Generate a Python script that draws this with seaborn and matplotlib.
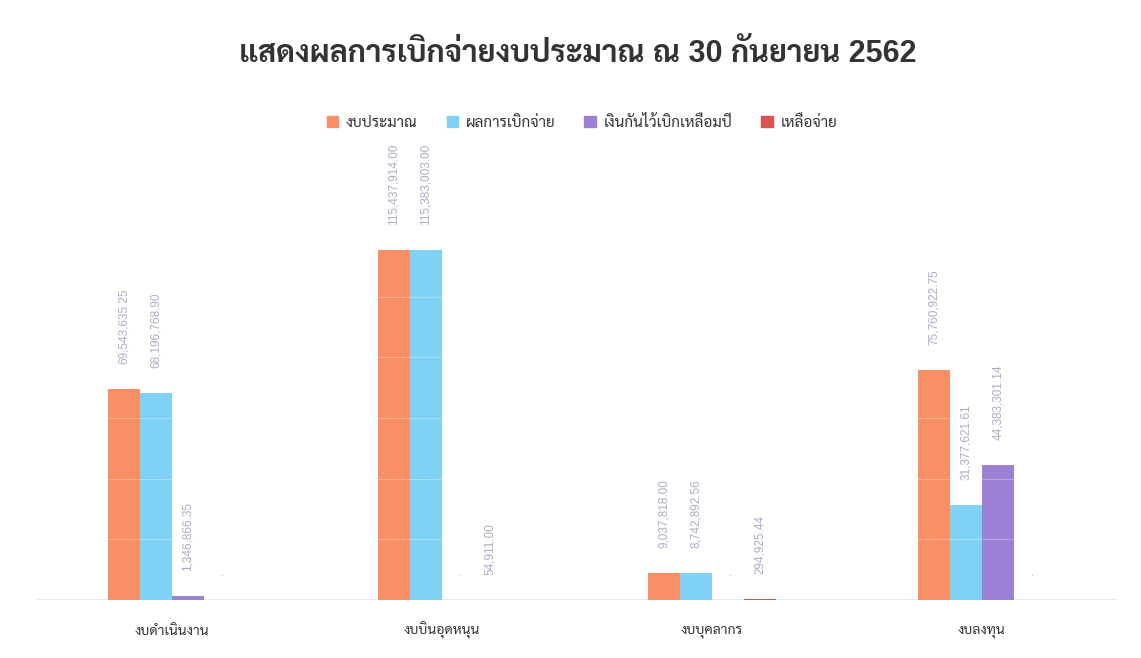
import matplotlib
matplotlib.use("Agg")
import matplotlib.pyplot as plt
import seaborn as sns
import pandas as pd

categories = ["งบดำเนินงาน", "งบบินอุดหนุน", "งบบุคลากร", "งบลงทุน"]
series_names = ["งบประมาณ", "ผลการเบิกจ่าย", "เงินกันไว้เบิกเหลื่อมปี", "เหลือจ่าย"]
budget = [69543635.25, 115437914.00, 9037818.00, 75760922.75]
disbursed = [68196768.90, 115383003.00, 8742892.56, 31377621.61]
carried = [1346866.35, 0.0, 0.0, 44383301.14]
remaining = [0.0, 54911.00, 294925.44, 0.0]
title = "แสดงผลการเบิกจ่ายงบประมาณ ณ 30 กันยายน 2562"
colors = ["#F98F64", "#7FD2F5", "#9B80D3", "#D9534F"]

rows = []
for name, vals in zip(series_names, [budget, disbursed, carried, remaining]):
    for c, v in zip(categories, vals):
        rows.append({"cat": c, "series": name, "value": v})
df = pd.DataFrame(rows)

sns.set_theme(style="white")
plt.rcParams["font.family"] = ["Liberation Sans", "Sarabun", "DejaVu Sans"]

fig = plt.figure(figsize=(11.41, 6.58), dpi=100)
ax = fig.add_axes([37 / 1141, 58 / 658, 1080 / 1141, 460 / 658])
sns.barplot(data=df, x="cat", y="value", hue="series", order=categories,
            hue_order=series_names, palette=colors, width=0.475,
            saturation=1, ax=ax, legend=False, zorder=2, linewidth=0,
            edgecolor="none")

ax.set_ylim(0, 151.7e6)
ax.set_xlim(-0.5, 3.5)
ax.set_xlabel("")
ax.set_ylabel("")
ax.set_yticks([])
for s in ax.spines.values():
    s.set_visible(False)
ax.axhline(0, color="#e4e4e4", lw=1.2, zorder=1)
for yv in range(20, 121, 20):
    ax.axhline(yv * 1e6, color="white", alpha=0.3, lw=0.8, zorder=3)
ax.tick_params(axis="x", length=0, pad=22, labelsize=10, labelcolor="#333333")
for lab in ax.get_xticklabels():
    lab.set_verticalalignment("center")

for cont in ax.containers:
    labels = []
    for bar in cont:
        h = bar.get_height()
        labels.append("." if h == 0 else f"{h:,.2f}")
    ax.bar_label(cont, labels=labels, rotation=90, padding=18, fontsize=8.5,
                 color="#A8AEC6", family="Liberation Sans")

fig.text(0.506, 0.918, title, ha="center", va="center", fontsize=22,
         color="#333333", fontweight="bold")

handles = [plt.Rectangle((0, 0), 1, 1, color=c) for c in colors]
fig.legend(handles, series_names, loc="center", bbox_to_anchor=(0.51, 0.814),
           ncol=4, frameon=False, fontsize=11, handlelength=0.75,
           handleheight=0.75, handletextpad=0.5, columnspacing=1.9,
           labelcolor="#333333")

fig.savefig("out.png", dpi=100)
